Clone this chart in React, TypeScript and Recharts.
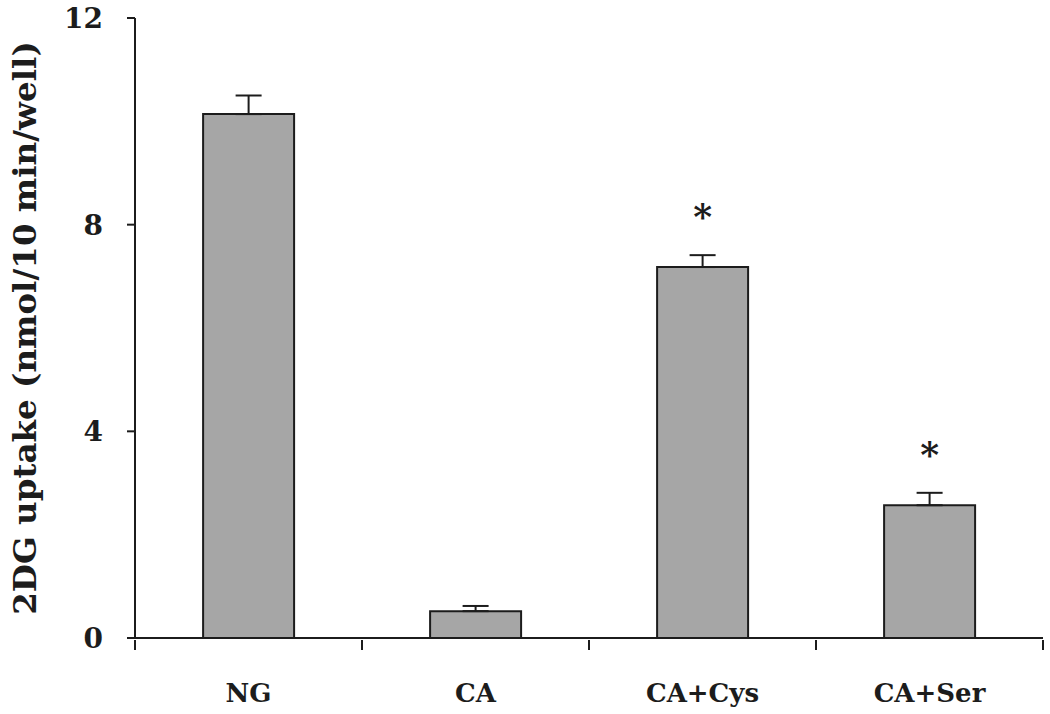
import { BarChart, Bar, XAxis, YAxis, ErrorBar, LabelList } from 'recharts';

const groups = ['NG', 'CA', 'CA+Cys', 'CA+Ser'];
const uptake = [10.14, 0.52, 7.18, 2.57];
const errors = [0.36, 0.1, 0.23, 0.24];
const marks = ['', '', '*', '*'];
const yTicks = [0, 4, 8, 12];

const data = groups.map((g, i) => ({
    group: g,
    uptake: uptake[i],
    err: [0, errors[i]],
    mark: marks[i],
}));

const FONT = '"DejaVu Serif", serif';
const INK = '#1c1c1c';

function GroupTick(props: any) {
    const { x, y, payload, index, visibleTicksCount } = props;
    const half = payload.offset ?? 0;
    return (
        <g>
            <line x1={x - half} y1={y} x2={x - half} y2={y + 10} stroke={INK} strokeWidth={2} />
            {index === visibleTicksCount - 1 && (
                <line x1={x + half} y1={y} x2={x + half} y2={y + 10} stroke={INK} strokeWidth={2} />
            )}
            <text x={x} y={y + 62} textAnchor="middle" fontFamily={FONT} fontWeight={700} fontSize={26} fill={INK}>
                {payload.value}
            </text>
        </g>
    );
}

function StarLabel(props: any) {
    const { x, y, width, height, index } = props;
    const mark = marks[index];
    if (!mark) return null;
    // place the star a little above the top of the error bar
    const perUnit = height / uptake[index];
    const errTop = y - errors[index] * perUnit;
    return (
        <text x={x + width / 2} y={errTop - 26} textAnchor="middle" fontFamily={FONT} fontWeight={700} fontSize={36} fill={INK}>
            {mark}
        </text>
    );
}

export default function App() {
    return (
        <div style={{ position: 'absolute', left: 0, top: 0, background: '#fff' }}>
            <BarChart
                width={1050}
                height={714}
                data={data}
                margin={{ top: 18, right: 7, bottom: 0, left: 0 }}
                barCategoryGap="30%"
            >
                <XAxis
                    dataKey="group"
                    height={76}
                    axisLine={{ stroke: INK, strokeWidth: 2 }}
                    tickLine={false}
                    tickSize={0}
                    tick={<GroupTick />}
                    interval={0}
                />
                <YAxis
                    width={135}
                    domain={[0, 12]}
                    ticks={yTicks}
                    axisLine={{ stroke: INK, strokeWidth: 2 }}
                    tickLine={{ stroke: INK, strokeWidth: 2 }}
                    tickSize={8}
                    tickMargin={24}
                    tick={{ fontFamily: FONT, fontWeight: 700, fontSize: 28, fill: INK }}
                    label={{
                        value: '2DG uptake (nmol/10 min/well)',
                        angle: -90,
                        position: 'insideLeft',
                        offset: 24,
                        style: { fontFamily: FONT, fontWeight: 700, fontSize: 32.5, fill: INK, textAnchor: 'middle' },
                    }}
                />
                <Bar dataKey="uptake" fill="#a6a6a6" stroke={INK} strokeWidth={2} isAnimationActive={false}>
                    <ErrorBar dataKey="err" width={13} stroke={INK} strokeWidth={2} direction="y" />
                    <LabelList dataKey="mark" content={<StarLabel />} />
                </Bar>
            </BarChart>
        </div>
    );
}
